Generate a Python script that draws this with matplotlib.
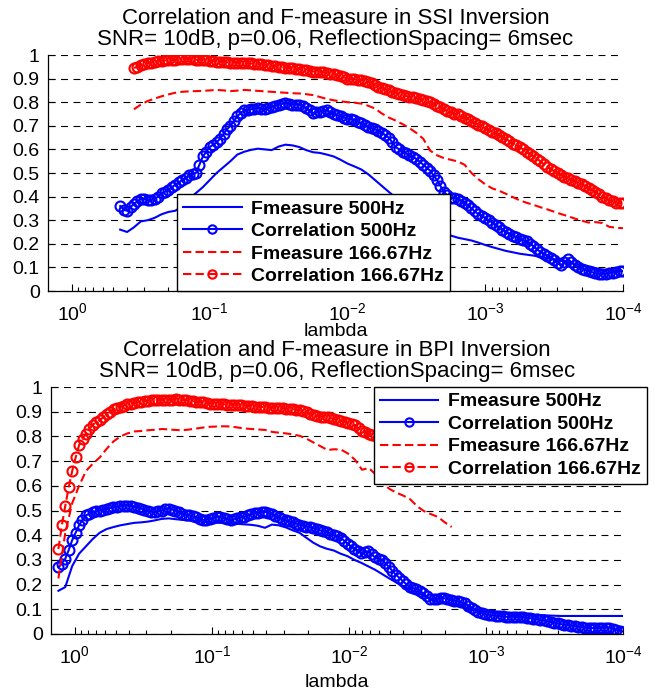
import numpy as np
import matplotlib
matplotlib.use("Agg")
import matplotlib.pyplot as plt
from matplotlib.ticker import FixedLocator, FuncFormatter, LogLocator, NullFormatter

plt.rcParams['font.family'] = ['Liberation Sans', 'DejaVu Sans']
plt.rcParams['mathtext.default'] = 'regular'
plt.rcParams['lines.scale_dashes'] = False

# ---------------- data ----------------
# log10(lambda) ranges (start, stop, count) of each series
ssi_log_f500 = (-0.35, -4.0, 74)
ssi_log_c500 = (-0.35, -4.0, 147)
ssi_log_f167 = (-0.45, -4.0, 72)
ssi_log_c167 = (-0.45, -4.0, 143)
bpi_log_f500 = (0.12, -4.0, 83)
bpi_log_c500 = (0.12, -4.0, 165)
bpi_log_f167 = (0.12, -2.75, 58)
bpi_log_c167 = (0.12, -2.75, 115)

# top panel (SSI inversion)
ssi_corr_500 = [0.36, 0.345, 0.34, 0.355, 0.37, 0.38, 0.39, 0.39, 0.385, 0.385, 0.39, 0.40, 0.415, 0.42, 0.43, 0.44, 0.45, 0.46, 0.47, 0.48,
                0.49, 0.495, 0.50, 0.535, 0.57, 0.59, 0.61, 0.62, 0.63, 0.645, 0.665, 0.685, 0.70, 0.72, 0.74, 0.755, 0.765, 0.768, 0.77, 0.773,
                0.775, 0.772, 0.77, 0.775, 0.78, 0.785, 0.79, 0.793, 0.795, 0.792, 0.79, 0.79, 0.79, 0.783, 0.775, 0.765, 0.755, 0.757, 0.76, 0.763,
                0.765, 0.757, 0.75, 0.745, 0.74, 0.735, 0.73, 0.728, 0.725, 0.718, 0.71, 0.703, 0.695, 0.69, 0.685, 0.678, 0.67, 0.66, 0.65, 0.63,
                0.61, 0.60, 0.59, 0.583, 0.575, 0.568, 0.56, 0.548, 0.535, 0.522, 0.51, 0.49, 0.47, 0.445, 0.42, 0.405, 0.395, 0.393, 0.39, 0.383,
                0.375, 0.363, 0.35, 0.337, 0.325, 0.318, 0.31, 0.30, 0.29, 0.28, 0.27, 0.26, 0.25, 0.243, 0.235, 0.228, 0.22, 0.215, 0.21, 0.20,
                0.19, 0.178, 0.165, 0.158, 0.15, 0.14, 0.13, 0.12, 0.11, 0.122, 0.135, 0.122, 0.11, 0.103, 0.095, 0.09, 0.085, 0.08, 0.075, 0.073,
                0.072, 0.073, 0.075, 0.078, 0.08, 0.083, 0.085]
ssi_f_500 = [0.26, 0.25, 0.27, 0.295, 0.30, 0.31, 0.325, 0.335, 0.34, 0.36,
             0.39, 0.415, 0.44, 0.47, 0.50, 0.525, 0.55, 0.578, 0.59, 0.598,
             0.603, 0.60, 0.597, 0.612, 0.62, 0.617, 0.61, 0.597, 0.588, 0.585,
             0.578, 0.57, 0.556, 0.54, 0.528, 0.515, 0.495, 0.47, 0.445, 0.42,
             0.395, 0.37, 0.345, 0.32, 0.30, 0.28, 0.26, 0.245, 0.235, 0.226,
             0.22, 0.214, 0.205, 0.195, 0.186, 0.178, 0.17, 0.164, 0.158, 0.154,
             0.15, 0.145, 0.14, 0.135, 0.128, 0.121, 0.115, 0.11, 0.103, 0.097,
             0.09, 0.087, 0.085, 0.085]
ssi_corr_167 = [0.945, 0.95, 0.957, 0.962, 0.965, 0.968, 0.97, 0.973, 0.976, 0.977, 0.978, 0.979, 0.98, 0.981, 0.982, 0.982, 0.982, 0.981, 0.98, 0.98,
                0.98, 0.978, 0.976, 0.974, 0.972, 0.971, 0.97, 0.969, 0.968, 0.968, 0.967, 0.966, 0.966, 0.965, 0.964, 0.963, 0.962, 0.96, 0.958, 0.957,
                0.955, 0.952, 0.95, 0.948, 0.947, 0.945, 0.943, 0.941, 0.94, 0.937, 0.935, 0.932, 0.93, 0.929, 0.928, 0.926, 0.924, 0.921, 0.918, 0.914,
                0.91, 0.905, 0.90, 0.898, 0.897, 0.895, 0.893, 0.89, 0.887, 0.88, 0.872, 0.866, 0.86, 0.855, 0.85, 0.845, 0.84, 0.835, 0.83, 0.826,
                0.823, 0.82, 0.817, 0.813, 0.81, 0.805, 0.80, 0.793, 0.785, 0.778, 0.77, 0.763, 0.757, 0.752, 0.748, 0.742, 0.735, 0.728, 0.72, 0.712,
                0.705, 0.698, 0.69, 0.683, 0.675, 0.668, 0.66, 0.653, 0.645, 0.635, 0.625, 0.618, 0.61, 0.60, 0.59, 0.581, 0.572, 0.561, 0.55, 0.537,
                0.525, 0.516, 0.508, 0.50, 0.492, 0.485, 0.478, 0.472, 0.465, 0.458, 0.452, 0.445, 0.437, 0.428, 0.42, 0.41, 0.40, 0.392, 0.385, 0.38,
                0.375, 0.373, 0.372]
ssi_f_167 = [0.77, 0.79, 0.805, 0.815, 0.825, 0.833, 0.84, 0.844, 0.846, 0.847,
             0.848, 0.85, 0.852, 0.85, 0.847, 0.849, 0.852, 0.85, 0.848, 0.846,
             0.844, 0.842, 0.84, 0.838, 0.837, 0.834, 0.83, 0.822, 0.814, 0.808,
             0.804, 0.80, 0.798, 0.794, 0.785, 0.773, 0.752, 0.735, 0.722, 0.707,
             0.69, 0.67, 0.645, 0.595, 0.575, 0.563, 0.556, 0.549, 0.535, 0.50,
             0.474, 0.452, 0.435, 0.425, 0.412, 0.398, 0.384, 0.374, 0.365, 0.355,
             0.346, 0.336, 0.326, 0.317, 0.307, 0.298, 0.29, 0.292, 0.288, 0.272,
             0.268, 0.266]

# bottom panel (BPI inversion)
bpi_corr_500 = [0.27, 0.285, 0.305, 0.34, 0.38, 0.41, 0.44, 0.462, 0.48, 0.487, 0.492, 0.496, 0.50, 0.503, 0.506, 0.51, 0.513, 0.515, 0.517, 0.519,
                0.52, 0.518, 0.516, 0.512, 0.508, 0.502, 0.497, 0.495, 0.494, 0.497, 0.50, 0.505, 0.508, 0.504, 0.50, 0.493, 0.487, 0.483, 0.48, 0.476,
                0.472, 0.467, 0.462, 0.463, 0.465, 0.47, 0.475, 0.472, 0.47, 0.465, 0.46, 0.464, 0.468, 0.472, 0.475, 0.48, 0.485, 0.488, 0.49, 0.493,
                0.495, 0.49, 0.485, 0.478, 0.472, 0.466, 0.46, 0.456, 0.452, 0.447, 0.443, 0.439, 0.435, 0.432, 0.43, 0.425, 0.42, 0.416, 0.412, 0.406,
                0.40, 0.395, 0.39, 0.378, 0.365, 0.355, 0.345, 0.336, 0.328, 0.332, 0.335, 0.322, 0.31, 0.305, 0.30, 0.286, 0.272, 0.256, 0.24, 0.228,
                0.215, 0.202, 0.19, 0.186, 0.182, 0.173, 0.165, 0.152, 0.14, 0.141, 0.142, 0.144, 0.145, 0.142, 0.138, 0.135, 0.132, 0.128, 0.125, 0.115,
                0.105, 0.097, 0.09, 0.085, 0.08, 0.078, 0.076, 0.074, 0.073, 0.071, 0.07, 0.07, 0.07, 0.069, 0.068, 0.067, 0.066, 0.064, 0.062, 0.06,
                0.057, 0.055, 0.052, 0.049, 0.046, 0.043, 0.04, 0.038, 0.036, 0.034, 0.032, 0.03, 0.028, 0.026, 0.025, 0.024, 0.024, 0.024, 0.025, 0.026,
                0.026, 0.022, 0.018, 0.014, 0.01]
bpi_f_500 = [0.175, 0.19, 0.275, 0.325, 0.355, 0.385, 0.41, 0.425, 0.433, 0.44,
             0.445, 0.45, 0.452, 0.455, 0.46, 0.466, 0.468, 0.465, 0.462, 0.46,
             0.457, 0.455, 0.453, 0.451, 0.45, 0.448, 0.446, 0.444, 0.442, 0.438,
             0.43, 0.443, 0.44, 0.432, 0.42, 0.41, 0.39, 0.37, 0.355, 0.345,
             0.338, 0.325, 0.315, 0.30, 0.288, 0.274, 0.26, 0.243, 0.226, 0.21,
             0.193, 0.182, 0.17, 0.157, 0.14, 0.13, 0.127, 0.124, 0.118, 0.11,
             0.10, 0.095, 0.092, 0.089, 0.086, 0.084, 0.082, 0.08, 0.079, 0.078,
             0.077, 0.075, 0.074, 0.073, 0.073, 0.073, 0.073, 0.073, 0.073, 0.073,
             0.073, 0.073, 0.073]
bpi_corr_167 = [0.344, 0.44, 0.52, 0.595, 0.66, 0.715, 0.765, 0.79, 0.81, 0.83, 0.848, 0.857, 0.865, 0.878, 0.89, 0.90, 0.91, 0.915, 0.92, 0.925,
                0.93, 0.933, 0.935, 0.938, 0.94, 0.943, 0.945, 0.946, 0.946, 0.947, 0.947, 0.948, 0.948, 0.949, 0.95, 0.949, 0.948, 0.947, 0.945, 0.943,
                0.94, 0.939, 0.938, 0.935, 0.933, 0.931, 0.93, 0.93, 0.93, 0.929, 0.928, 0.928, 0.927, 0.926, 0.925, 0.923, 0.922, 0.921, 0.92, 0.919,
                0.918, 0.917, 0.916, 0.915, 0.914, 0.913, 0.912, 0.911, 0.91, 0.908, 0.905, 0.901, 0.897, 0.892, 0.888, 0.884, 0.88, 0.879, 0.878, 0.874,
                0.87, 0.866, 0.862, 0.859, 0.856, 0.851, 0.845, 0.833, 0.822, 0.816, 0.81, 0.805, 0.80, 0.795, 0.79, 0.785, 0.78, 0.775, 0.77, 0.765,
                0.76, 0.755, 0.75, 0.745, 0.74, 0.735, 0.73, 0.725, 0.72, 0.715, 0.71, 0.705, 0.70, 0.695, 0.69]
bpi_f_167 = [0.225, 0.41, 0.53, 0.60, 0.66, 0.69, 0.715, 0.75, 0.78, 0.80,
             0.812, 0.82, 0.822, 0.825, 0.827, 0.83, 0.828, 0.826, 0.825, 0.828,
             0.832, 0.836, 0.839, 0.84, 0.841, 0.84, 0.836, 0.832, 0.83, 0.828,
             0.826, 0.818, 0.815, 0.812, 0.808, 0.802, 0.79, 0.775, 0.76, 0.745,
             0.748, 0.746, 0.73, 0.705, 0.665, 0.672, 0.645, 0.61, 0.587, 0.572,
             0.56, 0.545, 0.517, 0.497, 0.485, 0.474, 0.452, 0.433]

legend_labels = ['Fmeasure 500Hz', 'Correlation 500Hz',
                 'Fmeasure 166.67Hz', 'Correlation 166.67Hz']
titles = [['Correlation and F-measure in SSI Inversion',
           'SNR= 10dB, p=0.06, ReflectionSpacing= 6msec'],
          ['Correlation and F-measure in BPI Inversion',
           'SNR= 10dB, p=0.06, ReflectionSpacing= 6msec']]
yticks = [0, 0.1, 0.2, 0.3, 0.4, 0.5, 0.6, 0.7, 0.8, 0.9, 1.0]
xticks = [1e0, 1e-1, 1e-2, 1e-3, 1e-4]
xlim = (10 ** 0.174, 1e-4)

# ---------------- figure ----------------
W, H = 658, 693
fig = plt.figure(figsize=(W / 100, H / 100), dpi=100)

def px_rect(l, t, r, b):
    return [l / W, 1 - b / H, (r - l) / W, (b - t) / H]

ax1 = fig.add_axes(px_rect(48, 55, 623, 291))
ax2 = fig.add_axes(px_rect(51, 387, 623, 634))

BLUE = (0, 0, 1)
RED = (1, 0, 0)
dash = (0, (6, 3))
LW = 1.5
MS = 7.2
MEW = 1.5

def draw(ax, lg, f500, c500, f167, c167, title, xlabelpad):
    l1, = ax.plot(np.logspace(*lg[0]), f500, '-', color=BLUE, lw=LW)
    l2, = ax.plot(np.logspace(*lg[1]), c500, '-', color=BLUE, lw=LW, marker='o',
                  ms=MS, mfc='none', mec=BLUE, mew=MEW)
    l3, = ax.plot(np.logspace(*lg[2]), f167, color=RED, lw=LW, linestyle=dash)
    l4, = ax.plot(np.logspace(*lg[3]), c167, color=RED, lw=LW, linestyle=dash,
                  marker='o', ms=MS, mfc='none', mec=RED, mew=MEW)
    ax.set_xscale('log')
    ax.set_xlim(*xlim)
    ax.set_ylim(0, 1)
    ax.set_yticks(yticks)
    ax.yaxis.set_major_formatter(FuncFormatter(lambda v, p: '%g' % v))
    ax.xaxis.set_major_locator(FixedLocator(xticks))
    ax.xaxis.set_major_formatter(FuncFormatter(
        lambda v, p: r'$10^{%d}$' % int(round(np.log10(v)))))
    ax.xaxis.set_minor_locator(LogLocator(base=10, subs=np.arange(2, 10)))
    ax.xaxis.set_minor_formatter(NullFormatter())
    ax.tick_params(axis='both', which='major', direction='in', length=5,
                   width=0.8, labelsize=14, pad=6)
    ax.tick_params(axis='x', which='minor', direction='in', length=3, width=0.8)
    ax.tick_params(axis='x', which='major', pad=8)
    for s in ['top', 'right']:
        ax.spines[s].set_visible(False)
    for s in ['left', 'bottom']:
        ax.spines[s].set_linewidth(0.9)
    ax.yaxis.grid(True, color='black', linestyle=(0, (5, 4)), lw=0.8)
    ax.set_axisbelow(True)
    ax.set_title(title[0] + '\n' + title[1], fontsize=16, pad=7, linespacing=1.0)
    ax.set_xlabel('lambda', fontsize=14, labelpad=xlabelpad)
    return [l1, l2, l3, l4]

h1 = draw(ax1, [ssi_log_f500, ssi_log_c500, ssi_log_f167, ssi_log_c167],
          ssi_f_500, ssi_corr_500, ssi_f_167, ssi_corr_167, titles[0], -1)
h2 = draw(ax2, [bpi_log_f500, bpi_log_c500, bpi_log_f167, bpi_log_c167],
          bpi_f_500, bpi_corr_500, bpi_f_167, bpi_corr_167, titles[1], 5)

legkw = dict(frameon=True, fancybox=False, framealpha=1, edgecolor='black',
             prop={'weight': 'bold', 'size': 14}, handlelength=3.0,
             borderaxespad=0, labelspacing=0.25, borderpad=0.3, handletextpad=0.5)
lg1 = ax1.legend(h1, legend_labels, loc='lower center',
                 bbox_to_anchor=(0.462, 0.0), **legkw)
lg2 = ax2.legend(h2, legend_labels, loc='upper left',
                 bbox_to_anchor=(0.565, 1.0), **legkw)
for lg in (lg1, lg2):
    lg.get_frame().set_linewidth(1.0)
    lg.set_zorder(10)
    for h in lg.legend_handles:
        h.set_markersize(6)

fig.savefig('out.png', dpi=100)
